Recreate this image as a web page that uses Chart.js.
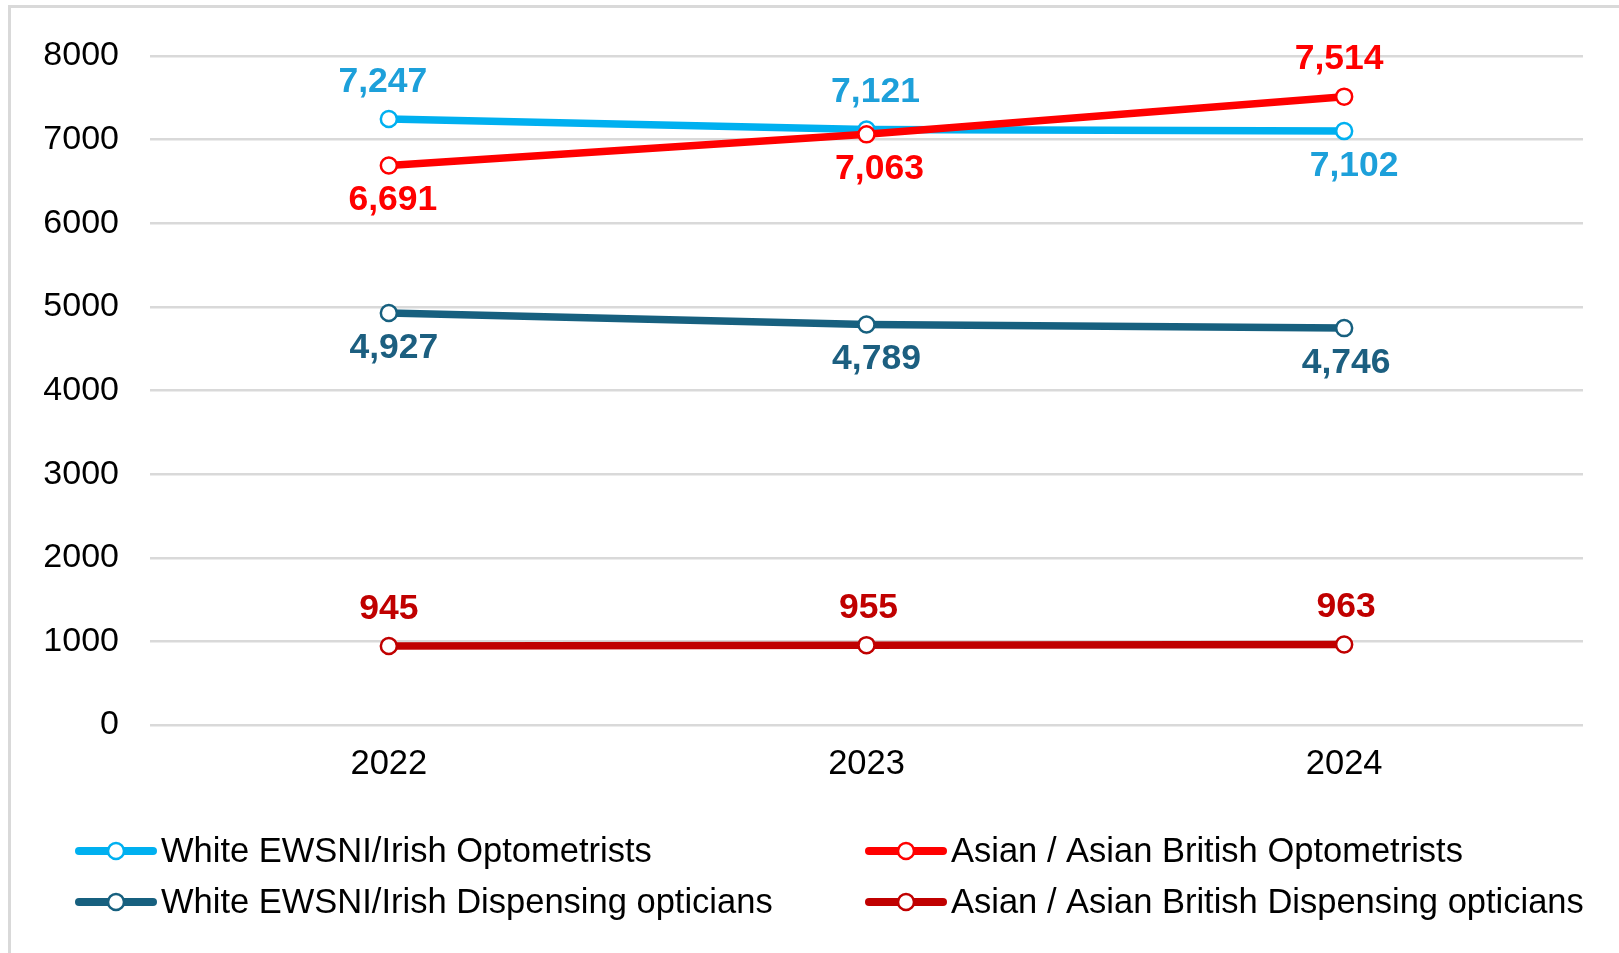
<!DOCTYPE html>
<html>
<head>
<meta charset="utf-8">
<script src="https://cdn.jsdelivr.net/npm/chart.js@4"></script>
<style>
html,body{margin:0;padding:0;background:#fff;}
#wrap{position:relative;width:1619px;height:953px;overflow:hidden;}
#frame{position:absolute;left:8px;top:5px;width:1700px;height:1100px;border-top:3px solid #D9D9D9;border-left:3px solid #D9D9D9;}
#grafico{position:absolute;left:0;top:0;}
</style>
</head>
<body>
<div id="wrap">
<div id="frame"></div>
<canvas id="grafico" width="1619" height="953"></canvas>
</div>
<script>

const anos = ["2022","2023","2024"];

const whiteOptometrists = [7247,7121,7102];
const asianOptometrists = [6691,7063,7514];
const whiteDispensing = [4927,4789,4746];
const asianDispensing = [945,955,963];

const yMin = 0;
const yMax = 8000;
const yStep = 1000;


const fonte = "'Liberation Sans', Arial, sans-serif";


// rotulos de valor por cima/baixo de cada ponto
const rotulosPlugin = {
  id:"rotulos",
  afterDatasetsDraw(chart){
    const ctx = chart.ctx;
    ctx.save();
    ctx.font = "bold 35.5px " + fonte;
    ctx.textAlign = "center";
    ctx.textBaseline = "middle";
    chart.data.datasets.forEach((ds,i)=>{
      const meta = chart.getDatasetMeta(i);
      ctx.fillStyle = ds.corRotulo;
      meta.data.forEach((pt,j)=>{
        const dy = ds.posRotulo[j]=="acima" ? -37 : 35;
        ctx.fillText(ds.data[j].toLocaleString("en-GB"), pt.x+ds.dxRotulo[j], pt.y+dy);
      });
    });
    ctx.restore();
  }
};


// legenda em duas colunas
const legendaPlugin = {
  id:"legenda",
  afterDraw(chart){
    const ctx = chart.ctx;
    const colunas = [75,865];
    const linhas = [851,902];
    ctx.save();
    ctx.font = "34.5px " + fonte;
    ctx.textBaseline = "middle";
    ctx.textAlign = "left";
    chart.data.datasets.forEach((ds)=>{
      const x = colunas[ds.legendaPos[0]];
      const y = linhas[ds.legendaPos[1]];
      ctx.strokeStyle = ds.borderColor;
      ctx.lineWidth = 8;
      ctx.lineCap = "round";
      ctx.beginPath();
      ctx.moveTo(x+4,y);
      ctx.lineTo(x+78,y);
      ctx.stroke();
      ctx.beginPath();
      ctx.arc(x+41,y,8,0,Math.PI*2);
      ctx.fillStyle = "#fff";
      ctx.fill();
      ctx.lineWidth = 2.5;
      ctx.stroke();
      ctx.fillStyle = "#000";
      ctx.fillText(ds.label, x+86, y+1);
    });
    ctx.restore();
  }
};


function serie(label, valores, cor, corRotulo, pos, dx, ordem, legendaPos){
  return {
    label:label,
    data:valores,
    borderColor:cor,
    backgroundColor:"#fff",
    borderWidth:7.5,
    pointRadius:8,
    pointBorderWidth:2.5,
    pointBackgroundColor:"#fff",
    pointBorderColor:cor,
    tension:0,
    order:ordem,
    corRotulo:corRotulo,
    posRotulo:pos,
    dxRotulo:dx,
    legendaPos:legendaPos
  };
}


new Chart(
document.getElementById("grafico"),
{
  type:"line",
  data:{
    labels:anos,
    datasets:[
      serie("White EWSNI/Irish Optometrists", whiteOptometrists, "#00B0F0", "#1DA0DA", ["acima","acima","abaixo"], [-6,9,10], 1, [0,0]),
      serie("Asian / Asian British Optometrists", asianOptometrists, "#FF0000", "#FF0000", ["abaixo","abaixo","acima"], [4,13,-5], 0, [1,0]),
      serie("White EWSNI/Irish Dispensing opticians", whiteDispensing, "#17607F", "#1C5F80", ["abaixo","abaixo","abaixo"], [5,10,2], 2, [0,1]),
      serie("Asian / Asian British Dispensing opticians", asianDispensing, "#C00000", "#C00000", ["acima","acima","acima"], [0,2,2], 3, [1,1])
    ]
  },
  options:{
    responsive:false,
    animation:false,
    layout:{
      padding:{top:56,right:36,left:0,bottom:0}
    },
    plugins:{
      legend:{display:false},
      tooltip:{enabled:false}
    },
    scales:{
      x:{
        offset:true,
        grid:{display:false,drawTicks:false},
        border:{display:false},
        ticks:{
          color:"#000",
          font:{family:fonte,size:34.5},
          padding:19
        },
        afterFit(scale){ scale.height = 228; }
      },
      y:{
        min:yMin,
        max:yMax,
        grid:{color:"#D9D9D9",lineWidth:2.5,drawTicks:false},
        border:{display:false},
        ticks:{
          stepSize:yStep,
          color:"#000",
          font:{family:fonte,size:34},
          padding:31,
          callback:(v)=>String(v)
        },
        afterFit(scale){ scale.width = 150; }
      }
    }
  },
  plugins:[rotulosPlugin, legendaPlugin]
}
);

</script>
</body>
</html>
